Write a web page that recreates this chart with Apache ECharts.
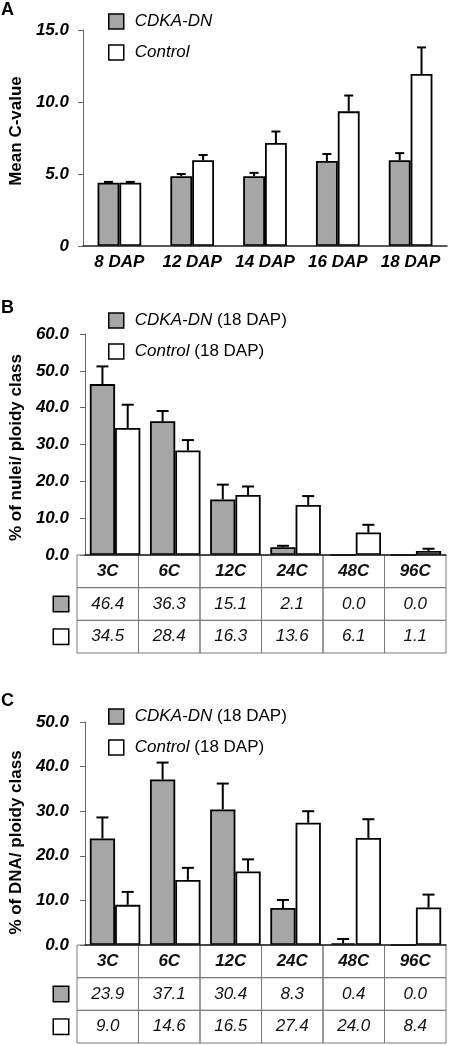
<!DOCTYPE html>
<html>
<head>
<meta charset="utf-8">
<script src="https://cdn.jsdelivr.net/npm/echarts@6/dist/echarts.min.js"></script>
<style>
html,body{margin:0;padding:0;background:#fff;}
#chart{width:450px;height:1045px;}
</style>
</head>
<body>
<div id="chart"></div>
<script>
// ---- Panel A data ----
const catsA = ['8 DAP', '12 DAP', '14 DAP', '16 DAP', '18 DAP'];
const cdkaA = [4.4, 4.85, 4.85, 5.9, 5.95];
const cdkaErrA = [0.05, 0.15, 0.23, 0.49, 0.5];
const ctrlA = [4.4, 5.95, 7.15, 9.35, 11.95];
const ctrlErrA = [0.05, 0.37, 0.8, 1.1, 1.84];

// ---- Panel B data (% of nuclei per ploidy class) ----
const ploidy = ['3C', '6C', '12C', '24C', '48C', '96C'];
const cdkaB = [46.4, 36.3, 15.1, 2.1, 0.0, 0.0];
const cdkaErrB = [4.8, 2.8, 4.0, 0.4, 0, 0];
const ctrlB = [34.5, 28.4, 16.3, 13.6, 6.1, 1.1];
const ctrlErrB = [6.3, 2.8, 2.3, 2.4, 2.1, 0.6];

// ---- Panel C data (% of DNA per ploidy class) ----
const cdkaC = [23.9, 37.1, 30.4, 8.3, 0.4, 0.0];
const cdkaErrC = [4.7, 3.8, 5.8, 1.8, 0.95, 0];
const ctrlC = [9.0, 14.6, 16.5, 27.4, 24.0, 8.4];
const ctrlErrC = [2.9, 2.7, 2.7, 2.6, 4.2, 2.9];

const tableRows = ['header', 'CDKA-DN', 'Control'];

const FONT = '"Liberation Sans", Arial, sans-serif';
const GRAY = '#a6a6a6';

const chart = echarts.init(document.getElementById('chart'), null, {renderer: 'canvas'});

function errData(a, ea, b, eb) {
  const out = [];
  a.forEach((v, i) => out.push([i, v, ea[i], 0]));
  b.forEach((v, i) => out.push([i, v, eb[i], 1]));
  return out;
}

function errRender(gap, capW) {
  return function (params, api) {
    const cat = api.value(0), v = api.value(1), e = api.value(2), side = api.value(3);
    const band = api.size([1, 0])[0];
    const bw = band * (1 - gap) / 2;
    const p0 = api.coord([cat, v]);
    const p1 = api.coord([cat, v + e]);
    const cx = p0[0] + (side ? bw / 2 : -bw / 2);
    const st = {stroke: '#000', lineWidth: 2};
    return {
      type: 'group',
      children: [
        {type: 'line', shape: {x1: cx, y1: p0[1], x2: cx, y2: p1[1]}, style: st},
        {type: 'line', shape: {x1: cx - capW / 2, y1: p1[1], x2: cx + capW / 2, y2: p1[1]}, style: st}
      ]
    };
  };
}

function tableData(a, b) {
  const out = [];
  ploidy.forEach((c, i) => out.push([i, 0, c, 1]));
  a.forEach((v, i) => out.push([i, 1, v.toFixed(1), 0]));
  b.forEach((v, i) => out.push([i, 2, v.toFixed(1), 0]));
  return out;
}

const cellText = {};

function tableRenderFor(key) {
  return function (params, api) {
    const col = api.value(0), row = api.value(1);
    const c = api.coord([col, row]);
    const s = api.size([1, 1]);
    const w = Math.abs(s[0]), h = Math.abs(s[1]);
    const txt = cellText[key][params.dataIndex];
    return {
      type: 'group',
      children: [
        {type: 'rect', shape: {x: c[0] - w / 2, y: c[1] - h / 2, width: w, height: h},
          style: {fill: null, stroke: '#7a7a7a', lineWidth: 1}},
        {type: 'text', style: {text: txt[2], x: c[0], y: c[1], align: 'center', verticalAlign: 'middle',
          font: (txt[3] ? 'italic bold 17px ' : 'italic 17px ') + FONT, fill: '#111'}}
      ]
    };
  };
}

cellText.B = tableData(cdkaB, ctrlB);
cellText.C = tableData(cdkaC, ctrlC);

function yLabelA(v) { return v === 0 ? '0' : v.toFixed(1); }
function yLabelBC(v) { return v.toFixed(1); }

const nameStyle = {fontFamily: FONT, fontWeight: 'bold', fontSize: 17, color: '#000'};

const yAxisCommon = {
  type: 'value', min: 0,
  axisLine: {show: true, lineStyle: {color: '#666', width: 1}},
  axisTick: {show: true, length: 5, lineStyle: {color: '#666'}},
  splitLine: {show: false},
  nameLocation: 'middle'
};

const tableYAxis = {
  type: 'category', data: tableRows, inverse: true,
  axisLine: {show: false}, axisTick: {show: false}, splitLine: {show: false},
  axisLabel: {
    margin: 9,
    formatter: (v, i) => i === 1 ? '{g| }' : (i === 2 ? '{w| }' : ''),
    rich: {
      g: {width: 14, height: 14, backgroundColor: GRAY, borderColor: '#000', borderWidth: 1.5},
      w: {width: 14, height: 14, backgroundColor: '#fff', borderColor: '#000', borderWidth: 1.5}
    }
  }
};

const tableXAxis = {
  type: 'category', data: ploidy,
  axisLine: {show: false}, axisTick: {show: false}, axisLabel: {show: false}, splitLine: {show: false}
};

const barXAxisBC = {
  type: 'category', data: ploidy, z: 5,
  axisLine: {show: true, lineStyle: {color: '#222', width: 1.5}},
  axisTick: {show: false}, axisLabel: {show: false}
};

const legendBase = {
  orient: 'vertical', left: 108, padding: 0,
  itemWidth: 15, itemHeight: 15, itemGap: 14, icon: 'rect',
  selectedMode: false,
  itemStyle: {borderColor: '#000', borderWidth: 1.5},
  data: ['CDKA-DN', 'Control']
};

const legendTextBC = {
  color: '#000', padding: [0, 0, 0, 6],
  rich: {
    i: {fontFamily: FONT, fontStyle: 'italic', fontSize: 17, color: '#000'},
    n: {fontFamily: FONT, fontSize: 17, color: '#000'}
  }
};

const tickLabelStyle = {fontFamily: FONT, fontWeight: 'bold', fontStyle: 'italic', fontSize: 17, color: '#000'};

function barSeries(name, data, xi, yi, gap) {
  return {
    type: 'bar', name: name, data: data, xAxisIndex: xi, yAxisIndex: yi,
    barGap: '0%', barCategoryGap: gap,
    itemStyle: {color: name === 'CDKA-DN' ? GRAY : '#fff', borderColor: '#000', borderWidth: 1.8},
    emphasis: {disabled: true}, silent: true
  };
}

const option = {
  animation: false,
  backgroundColor: '#fff',
  textStyle: {fontFamily: FONT},
  graphic: [
    {type: 'text', left: 1, top: 1, style: {text: 'A', font: 'bold 18px ' + FONT, fill: '#000'}},
    {type: 'text', left: 1, top: 299, style: {text: 'B', font: 'bold 18px ' + FONT, fill: '#000'}},
    {type: 'text', left: 1, top: 692, style: {text: 'C', font: 'bold 18px ' + FONT, fill: '#000'}}
  ],
  legend: [
    Object.assign({}, legendBase, {top: 13,
      textStyle: {fontFamily: FONT, fontStyle: 'italic', fontSize: 17, color: '#000', padding: [0, 0, 0, 6]}}),
    Object.assign({}, legendBase, {top: 312,
      formatter: n => '{i|' + n + '}{n| (18 DAP)}', textStyle: legendTextBC}),
    Object.assign({}, legendBase, {top: 708,
      formatter: n => '{i|' + n + '}{n| (18 DAP)}', textStyle: legendTextBC})
  ],
  grid: [
    {left: 82, top: 30, width: 365, height: 216},
    {left: 77, top: 334, width: 369, height: 221},
    {left: 77, top: 555, width: 369, height: 98},
    {left: 77, top: 722, width: 369, height: 223},
    {left: 77, top: 945, width: 369, height: 98}
  ],
  xAxis: [
    {type: 'category', data: catsA, gridIndex: 0, z: 5,
      axisLine: {show: true, lineStyle: {color: '#222', width: 1.5}},
      axisTick: {show: false},
      axisLabel: Object.assign({margin: 8, interval: 0}, tickLabelStyle)},
    Object.assign({gridIndex: 1}, barXAxisBC),
    Object.assign({gridIndex: 2}, tableXAxis),
    Object.assign({gridIndex: 3}, barXAxisBC),
    Object.assign({gridIndex: 4}, tableXAxis)
  ],
  yAxis: [
    Object.assign({}, yAxisCommon, {gridIndex: 0, max: 15, interval: 5, name: 'Mean C-value', nameGap: 56,
      nameTextStyle: Object.assign({}, nameStyle, {padding: [0, 0, 0, 14]}),
      axisLabel: Object.assign({margin: 14, formatter: yLabelA}, tickLabelStyle)}),
    Object.assign({}, yAxisCommon, {gridIndex: 1, max: 60, interval: 10, name: '% of nulei/ ploidy class', nameGap: 51,
      nameTextStyle: Object.assign({}, nameStyle, {padding: [0, 6, 0, 0]}),
      axisLabel: Object.assign({margin: 16, formatter: yLabelBC}, tickLabelStyle)}),
    Object.assign({gridIndex: 2}, tableYAxis),
    Object.assign({}, yAxisCommon, {gridIndex: 3, max: 50, interval: 10, name: '% of DNA/ ploidy class', nameGap: 51,
      nameTextStyle: Object.assign({}, nameStyle, {padding: [0, 18, 0, 0]}),
      axisLabel: Object.assign({margin: 16, formatter: yLabelBC}, tickLabelStyle)}),
    Object.assign({gridIndex: 4}, tableYAxis)
  ],
  series: [
    barSeries('CDKA-DN', cdkaA, 0, 0, '40%'),
    barSeries('Control', ctrlA, 0, 0, '40%'),
    {type: 'custom', name: 'errA', xAxisIndex: 0, yAxisIndex: 0, silent: true, z: 3,
      renderItem: errRender(0.4, 9), data: errData(cdkaA, cdkaErrA, ctrlA, ctrlErrA)},
    barSeries('CDKA-DN', cdkaB, 1, 1, '16%'),
    barSeries('Control', ctrlB, 1, 1, '16%'),
    {type: 'custom', name: 'errB', xAxisIndex: 1, yAxisIndex: 1, silent: true, z: 3,
      renderItem: errRender(0.16, 12), data: errData(cdkaB, cdkaErrB, ctrlB, ctrlErrB)},
    {type: 'custom', name: 'tableB', xAxisIndex: 2, yAxisIndex: 2, silent: true, z: 1,
      renderItem: tableRenderFor('B'), data: cellText.B.map(r => [r[0], r[1]])},
    barSeries('CDKA-DN', cdkaC, 3, 3, '16%'),
    barSeries('Control', ctrlC, 3, 3, '16%'),
    {type: 'custom', name: 'errC', xAxisIndex: 3, yAxisIndex: 3, silent: true, z: 3,
      renderItem: errRender(0.16, 12), data: errData(cdkaC, cdkaErrC, ctrlC, ctrlErrC)},
    {type: 'custom', name: 'tableC', xAxisIndex: 4, yAxisIndex: 4, silent: true, z: 1,
      renderItem: tableRenderFor('C'), data: cellText.C.map(r => [r[0], r[1]])}
  ]
};

chart.setOption(option);
</script>
</body>
</html>
